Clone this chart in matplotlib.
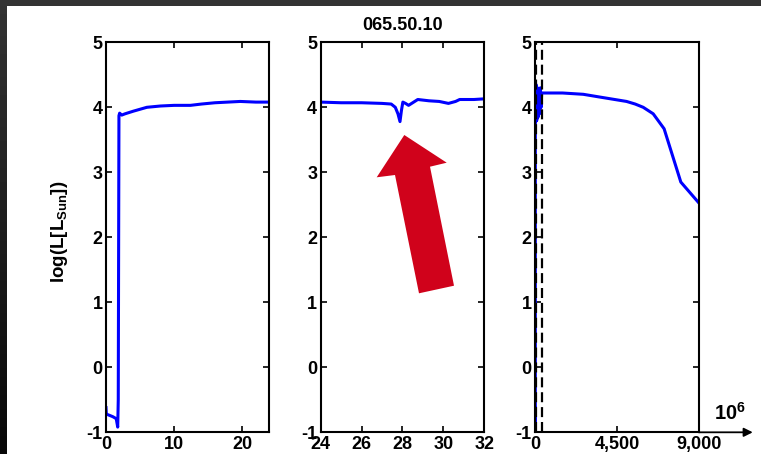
import matplotlib
matplotlib.use('Agg')
import matplotlib.pyplot as plt
import numpy as np
from matplotlib.patches import Polygon, Rectangle

plt.rcParams['font.family'] = ['Liberation Sans', 'DejaVu Sans']
plt.rcParams['font.weight'] = 'bold'
plt.rcParams['axes.unicode_minus'] = False
plt.rcParams['mathtext.fontset'] = 'custom'
plt.rcParams['mathtext.rm'] = 'Liberation Sans:bold'
plt.rcParams['mathtext.bf'] = 'Liberation Sans:bold'
plt.rcParams['mathtext.it'] = 'Liberation Sans:bold'

# pre-main sequence (age in Myr, log L/Lsun)
t_pms = [0, 0.05, 0.3, 1.0, 1.5, 1.72, 1.8, 1.9, 2.0, 2.3, 2.8, 4.0, 6.0, 8.0, 10.0, 12.4, 14.0, 16.0, 19.7, 22.0, 24.0]
L_pms = [-0.62, -0.72, -0.73, -0.76, -0.79, -0.92, -0.5, 3.87, 3.91, 3.88, 3.90, 3.94, 4.00, 4.02, 4.03, 4.03, 4.05, 4.07, 4.09, 4.08, 4.08]

# main sequence episode with the luminosity dip near 28 Myr
t_ms = [24.0, 25.0, 26.0, 27.0, 27.45, 27.65, 27.78, 27.88, 27.95, 28.02, 28.15, 28.3, 28.5, 28.75, 29.3, 29.8, 30.25, 30.6, 30.8, 31.5, 32.0]
L_ms = [4.08, 4.07, 4.07, 4.06, 4.05, 4.00, 3.90, 3.78, 3.95, 4.08, 4.06, 4.03, 4.07, 4.12, 4.10, 4.09, 4.06, 4.09, 4.12, 4.12, 4.13]

# later evolution
t_late = [40, 80, 120, 160, 200, 240, 280, 320, 350, 1500, 2640, 3500, 5025, 5500, 5940, 6490, 7090, 8010, 9000]
L_late = [4.35, 3.80, 4.30, 3.85, 4.25, 3.90, 4.30, 4.00, 4.22, 4.22, 4.20, 4.16, 4.09, 4.05, 4.00, 3.90, 3.67, 2.85, 2.53]

t_marks = [32, 350]

panel_xlim = [(0, 24), (24, 32), (0, 9000)]
panel_xticks = [[0, 10, 20], [24, 26, 28, 30, 32], [0, 4500, 9000]]
panel_xlabels = [['0', '10', '20'], ['24', '26', '28', '30', '32'], ['0', '4,500', '9,000']]
yticks = [-1, 0, 1, 2, 3, 4, 5]

W, H = 761, 454
fig = plt.figure(figsize=(W / 100, H / 100), dpi=100)
fig.patch.set_facecolor('white')

lefts = [106, 320.7, 535.3]
axes = []
for i, lx in enumerate(lefts):
    ax = fig.add_axes([lx / W, (H - 432.3) / H, 163.5 / W, 390 / H])
    axes.append(ax)

t_all = t_pms + t_ms[1:] + t_late
L_all = L_pms + L_ms[1:] + L_late

axes[0].plot(t_pms, L_pms, color='#0000ff', lw=2.2, solid_joinstyle='round')
axes[1].plot(t_ms, L_ms, color='#0000ff', lw=2.2, solid_joinstyle='round')
axes[2].plot(t_all, L_all, color='#0000ff', lw=2.2, solid_joinstyle='round')
for tm in t_marks:
    axes[2].axvline(tm, color='k', lw=1.6, ls=(0, (4.5, 2.2)))

for ax, xl, xt, xtl in zip(axes, panel_xlim, panel_xticks, panel_xlabels):
    ax.set_xlim(*xl)
    ax.set_ylim(-1, 5)
    ax.set_xticks(xt)
    ax.set_xticklabels(xtl)
    ax.set_yticks(yticks)
    ax.tick_params(direction='in', length=4, width=1.2, top=True, right=True,
                   labelsize=13, pad=2.5)
    for lab in ax.get_xticklabels() + ax.get_yticklabels():
        lab.set_fontweight('bold')
    for sp in ax.spines.values():
        sp.set_linewidth(1.5)

axes[1].set_title('065.50.10', fontsize=13, fontweight='bold', pad=9)
fig.text(59 / W, 1 - 232 / H, r'log(L[L$_{\rm Sun}$])', rotation=90, ha='center', va='center',
         fontsize=13.5, fontweight='bold')

# time axis arrow with unit
axes[2].annotate('', xy=(1.33, 0), xytext=(1.0, 0), xycoords='axes fraction',
                 textcoords='axes fraction', annotation_clip=False,
                 arrowprops=dict(arrowstyle='-|>', color='k', lw=1.3, mutation_scale=13,
                                 shrinkA=0, shrinkB=0))
axes[2].text(1.19, 0.022, r'$\mathbf{10^6}$', transform=axes[2].transAxes,
             ha='center', va='bottom', fontsize=14.5)

# red arrow pointing at the dip
pts = [(404.3, 135), (446.7, 162.7), (430, 166.7), (454, 285.7),
       (419, 293.3), (395, 175), (376.7, 177.3)]
pts = [(x / W, 1 - y / H) for x, y in pts]
fig.patches.append(Polygon(pts, closed=True, transform=fig.transFigure,
                           facecolor='#d0021b', edgecolor='none'))

# dark frame on the top and left edges
fig.patches.append(Rectangle((0, 1 - 6 / H), 1, 6 / H, transform=fig.transFigure,
                             facecolor='#333333', edgecolor='none'))
band = fig.add_axes([0, 0, 7 / W, 1])
band.imshow(np.linspace(0.2, 0.03, 100).reshape(-1, 1), cmap='gray', vmin=0, vmax=1,
            aspect='auto', extent=(0, 1, 0, 1))
band.axis('off')

fig.savefig('out.png', dpi=100, facecolor='white')
